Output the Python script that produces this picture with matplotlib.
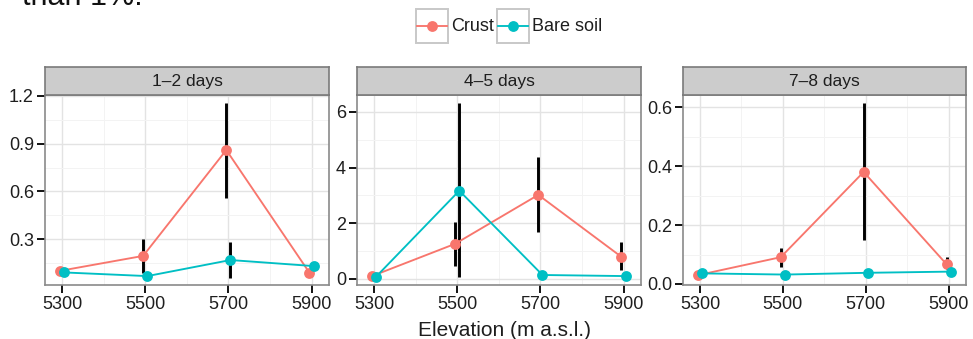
import matplotlib
matplotlib.use('Agg')
import matplotlib.pyplot as plt
import numpy as np
from matplotlib.patches import Rectangle
from matplotlib.lines import Line2D
from matplotlib.ticker import FixedLocator

plt.rcParams['font.family'] = ['Liberation Sans', 'DejaVu Sans']

# ---------------- data ----------------
elevations = [5300, 5500, 5700, 5900]
panel_titles = ['1–2 days', '4–5 days', '7–8 days']
series_names = ['Crust', 'Bare soil']
series_colors = ['#F8766D', '#00BFC4']

# 1-2 days
crust_1_2 = [0.100, 0.194, 0.860, 0.088]
crust_1_2_lo = [0.090, 0.085, 0.560, 0.080]
crust_1_2_hi = [0.110, 0.300, 1.158, 0.095]
bare_1_2 = [0.090, 0.067, 0.168, 0.130]
bare_1_2_lo = [0.085, 0.040, 0.055, 0.120]
bare_1_2_hi = [0.095, 0.075, 0.280, 0.140]

# 4-5 days
crust_4_5 = [0.10, 1.26, 3.02, 0.79]
crust_4_5_lo = [0.05, 0.48, 1.69, 0.32]
crust_4_5_hi = [0.15, 2.05, 4.38, 1.32]
bare_4_5 = [0.08, 3.17, 0.14, 0.10]
bare_4_5_lo = [0.05, 0.08, 0.10, 0.08]
bare_4_5_hi = [0.10, 6.33, 0.18, 0.12]

# 7-8 days
crust_7_8 = [0.030, 0.091, 0.380, 0.067]
crust_7_8_lo = [0.025, 0.058, 0.150, 0.050]
crust_7_8_hi = [0.040, 0.122, 0.615, 0.092]
bare_7_8 = [0.036, 0.032, 0.038, 0.042]
bare_7_8_lo = [0.033, 0.029, 0.035, 0.039]
bare_7_8_hi = [0.039, 0.035, 0.041, 0.045]

yticks_1_2 = [0.3, 0.6, 0.9, 1.2]
yticks_4_5 = [0, 2, 4, 6]
yticks_7_8 = [0.0, 0.2, 0.4, 0.6]
yticklabels_1_2 = ['0.3', '0.6', '0.9', '1.2']
yticklabels_4_5 = ['0', '2', '4', '6']
yticklabels_7_8 = ['0.0', '0.2', '0.4', '0.6']
xtick_labels = ['5300', '5500', '5700', '5900']
x_title = 'Elevation (m a.s.l.)'
top_text = 'than 1%.'

# ---------------- layout ----------------
W, H = 973, 339
fig = plt.figure(figsize=(W / 100, H / 100), dpi=100)

def rect(l, t, r, b):
    return [l / W, 1 - b / H, (r - l) / W, (b - t) / H]

panel_px = [(45, 329), (357, 641), (683, 966)]
plot_top, plot_bot, strip_top = 95, 285, 67
ylims = [(0.011, 1.206), (-0.22, 6.61), (-0.0034, 0.641)]
xlim = (5259, 5942)
dodge = 5

data = [
    (crust_1_2, crust_1_2_lo, crust_1_2_hi, bare_1_2, bare_1_2_lo, bare_1_2_hi, yticks_1_2, yticklabels_1_2),
    (crust_4_5, crust_4_5_lo, crust_4_5_hi, bare_4_5, bare_4_5_lo, bare_4_5_hi, yticks_4_5, yticklabels_4_5),
    (crust_7_8, crust_7_8_lo, crust_7_8_hi, bare_7_8, bare_7_8_lo, bare_7_8_hi, yticks_7_8, yticklabels_7_8),
]

border_col = '#8a8a8a'
text_col = '#1e1e1e'

for i, (l, r) in enumerate(panel_px):
    ax = fig.add_axes(rect(l, plot_top, r, plot_bot))
    c, clo, chi, b, blo, bhi, yt, ytl = data[i]
    ex = np.array(elevations, dtype=float)
    for k, (m, lo, hi) in enumerate([(c, clo, chi), (b, blo, bhi)]):
        xs = ex + (-dodge if k == 0 else dodge)
        ax.vlines(xs, lo, hi, color='black', lw=2.1, zorder=2)
        ax.plot(xs, m, '-', color=series_colors[k], lw=1.35, zorder=3)
        ax.plot(xs, m, 'o', color=series_colors[k], ms=7.8, mec='none', zorder=4)
    ax.set_xlim(*xlim)
    ax.set_ylim(*ylims[i])
    ax.set_xticks(elevations)
    ax.set_xticklabels(xtick_labels)
    ax.set_yticks(yt)
    ax.set_yticklabels(ytl)
    # minor grid
    xminor = [5400, 5600, 5800]
    step = yt[1] - yt[0]
    yminor = [v - step / 2 for v in yt] + [yt[-1] + step / 2]
    ax.xaxis.set_minor_locator(FixedLocator(xminor))
    ax.yaxis.set_minor_locator(FixedLocator(yminor))
    ax.grid(True, which='major', color='#E3E3E3', lw=1.0)
    ax.grid(True, which='minor', color='#F3F3F3', lw=0.7)
    ax.set_axisbelow(True)
    ax.tick_params(which='major', direction='out', length=5.5, width=1.3,
                   color='black', labelcolor=text_col, labelsize=13, pad=2.5)
    ax.tick_params(which='minor', length=0)
    for s in ax.spines.values():
        s.set_color(border_col)
        s.set_linewidth(1.2)
    # strip
    sax = fig.add_axes(rect(l, strip_top, r, plot_top))
    sax.set_facecolor('#CCCCCC')
    sax.set_xticks([])
    sax.set_yticks([])
    for s in sax.spines.values():
        s.set_color('#7a7a7a')
        s.set_linewidth(1.2)
    sax.text(0.5, 0.47, panel_titles[i], ha='center', va='center',
             fontsize=12.5, color=text_col, transform=sax.transAxes)

# overlay in pixel coordinates for legend, axis title and cropped text
ov = fig.add_axes([0, 0, 1, 1], facecolor='none')
ov.set_xlim(0, W)
ov.set_ylim(H, 0)
ov.axis('off')

ov.text(505, 336, x_title, ha='center', va='baseline', fontsize=15, color=text_col)
ov.text(22, 5, top_text, ha='left', va='baseline', fontsize=22, color='#111111')

key_boxes = [(416, 448), (497, 529)]
label_x = [451, 532]
for k in range(2):
    x0, x1 = key_boxes[k]
    ov.add_patch(Rectangle((x0, 9), x1 - x0, 34, facecolor='white',
                           edgecolor='#C8C8C8', lw=1.4))
    ov.add_line(Line2D([x0 + 1, x1 - 1], [26, 26], color=series_colors[k], lw=1.35))
    ov.plot([(x0 + x1) / 2], [26], 'o', color=series_colors[k], ms=7.8, mec='none')
    ov.text(label_x[k], 26.5, series_names[k], ha='left', va='center',
            fontsize=13, color=text_col)

fig.savefig('out.png', dpi=100)
